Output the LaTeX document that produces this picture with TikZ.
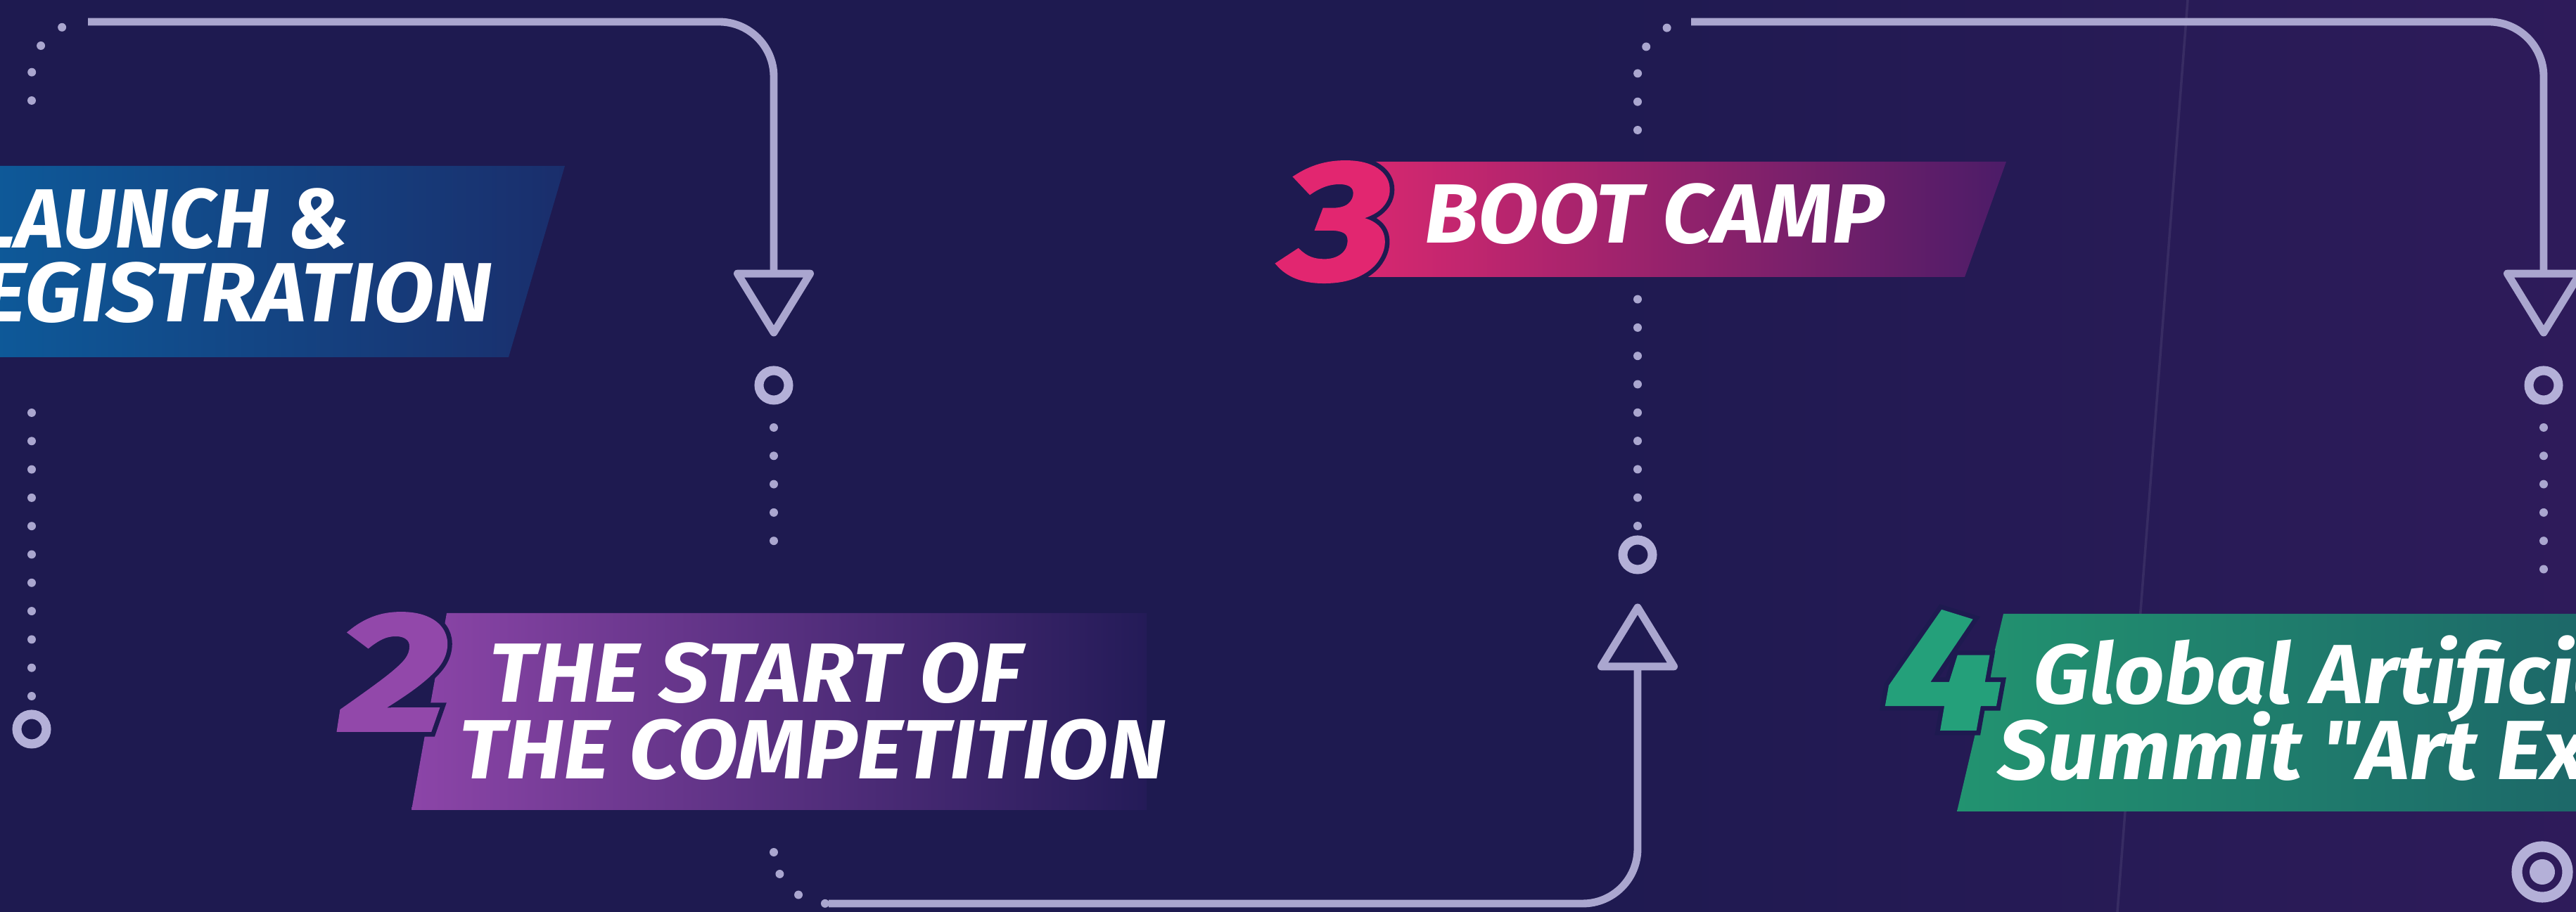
\documentclass[tikz,border=0pt]{standalone}
\usepackage{fontspec}
\setmainfont{Fira Sans}
\newfontfamily\titlefont{Fira Sans}[BoldItalicFeatures={FakeStretch=1.05}]
\newfontfamily\digitfont{Fira Sans}[BoldItalicFeatures={FakeStretch=1.25, FakeBold=2.5}]
\newfontfamily\digitedge{Fira Sans}[BoldItalicFeatures={FakeStretch=1.25, FakeBold=8}]
\usetikzlibrary{arrows.meta}
\begin{document}
\begin{tikzpicture}[
  flow/.style={draw=linelav, line width=3.1pt, rounded corners=0.78cm},
  flowtip/.style={-{Triangle[open, length=1.0cm, width=1.2cm, round]}, shorten >=0.42cm},
  dotline/.style={draw=linelav, line width=3.4pt, line cap=round, dash pattern=on 0pt off 0.403cm, rounded corners=0.77cm},
  ring/.style={circle, draw=ringlav, line width=3.7pt, minimum size=0.42cm, inner sep=0pt},
  title/.style={text=white, inner sep=0pt, text height=0.9cm, text depth=0pt, font=\titlefont\fontsize{34}{34}\selectfont\bfseries\itshape},
  digit/.style={inner sep=0pt, anchor=base west, font=\digitfont\fontsize{68}{68}\selectfont\bfseries\itshape},
  digitback/.style={inner sep=0pt, anchor=base west, text=bgnavy, font=\digitedge\fontsize{68}{68}\selectfont\bfseries\itshape}
]
  \definecolor{bgnavy}{RGB}{30,26,80}
  \definecolor{bgpurple}{RGB}{46,27,90}
  \definecolor{linelav}{RGB}{170,166,207}
  \definecolor{ringlav}{RGB}{180,176,216}
  \definecolor{blueleft}{RGB}{12,94,158}
  \definecolor{blueright}{RGB}{26,46,108}
  \definecolor{purpleleft}{RGB}{140,69,168}
  \definecolor{purplemid}{RGB}{100,52,150}
  \definecolor{purpleright}{RGB}{36,27,88}
  \definecolor{pinkleft}{RGB}{218,40,112}
  \definecolor{pinkmid}{RGB}{160,32,112}
  \definecolor{pinkright}{RGB}{76,28,104}
  \definecolor{greenleft}{RGB}{34,147,112}
  \definecolor{greenright}{RGB}{28,100,104}
  \definecolor{numtwo}{RGB}{146,72,170}
  \definecolor{numthree}{RGB}{226,38,112}
  \definecolor{numfour}{RGB}{36,160,122}
  \useasboundingbox (0,0) rectangle (36.62,12.97);
  \clip (0,0) rectangle (36.62,12.97);
  \fill[bgnavy] (0,0) rectangle (36.62,12.97);
  \shade[left color=bgnavy, right color=bgpurple] (22,0) rectangle (36.62,12.97);
  \draw[white, opacity=0.08, line width=1pt] (31.10,12.97) -- (30.10,0);

  \shade[left color=blueleft, right color=blueright] (-1,10.61) -- (8.03,10.61) -- (7.23,7.89) -- (-1,7.89) -- cycle;
  \shade[left color=purpleleft, middle color=purplemid, right color=purpleright] (6.35,4.25) -- (16.30,4.25) -- (16.30,1.45) -- (5.85,1.45) -- cycle;
  \shade[left color=pinkleft, middle color=pinkmid, right color=pinkright] (19.45,10.67) -- (28.52,10.67) -- (27.93,9.03) -- (19.20,9.03) -- cycle;
  \shade[left color=greenleft, right color=greenright] (28.48,4.24) -- (37.50,4.24) -- (37.50,1.43) -- (27.82,1.43) -- cycle;

  \node[digitback] (twoedge) at (4.84,2.59) {2};
  \node[digitback] (threeedge) at (18.25,9.01) {3};
  \node[digitback] (fouredge) at (26.80,2.61) {4};
  \node[digit, text=numtwo] (two) at (4.84,2.59) {2};
  \node[digit, text=numthree] (three) at (18.25,9.01) {3};
  \node[digit, text=numfour] (four) at (26.80,2.61) {4};

  \node[title, anchor=base east] (launch) at (4.98,9.44) {\scalebox{0.93}[1]{LAUNCH \&}};
  \node[title, anchor=base east] (registration) at (7.00,8.39) {REGISTRATION};
  \node[title, anchor=base west] (startof) at (6.95,2.98) {THE START OF};
  \node[title, anchor=base west] (competition) at (6.52,1.89) {THE COMPETITION};
  \node[title, anchor=base west] (bootcamp) at (20.25,9.51) {BOOT CAMP};
  \node[title, anchor=base west] (global) at (28.90,2.96) {Global Artificia};
  \node[title, anchor=base west] (summit) at (28.40,1.88) {Summit \textquotedbl Art Ex};

  \node[ring] (ring1) at (0.45,2.60) {};
  \node[ring] (ring2) at (11.00,7.49) {};
  \node[ring] (ring3) at (23.28,5.08) {};
  \node[ring] (ring4) at (36.16,7.49) {};
  \node[circle, draw=ringlav, line width=4.3pt, minimum size=0.72cm, inner sep=0pt] (endring) at (36.14,0.57) {};
  \node[circle, fill=ringlav, minimum size=0.36cm, inner sep=0pt] (enddot) at (endring) {};

  \coordinate (top1) at (1.25,12.66);
  \coordinate (bottom2) at (11.78,0.12);
  \coordinate (top3) at (24.04,12.66);
  \draw[flow, flowtip] (top1) -| (ring2.north);
  \draw[flow, flowtip] (bottom2) -| (ring3.south);
  \draw[flow, flowtip] (top3) -| (ring4.north);

  \coordinate (dota) at (0.45,3.07);
  \coordinate (dotb) at (0.45,7.10);
  \coordinate (dotc) at (0.45,11.54);
  \coordinate (dotd) at (11.00,6.89);
  \coordinate (dote) at (11.00,4.89);
  \coordinate (dotf) at (11.00,0.85);
  \coordinate (dotg) at (23.28,5.49);
  \coordinate (doth) at (23.28,8.72);
  \coordinate (doti) at (23.28,11.12);
  \coordinate (dotj) at (36.16,6.89);
  \coordinate (dotk) at (36.16,4.49);
  \draw[dotline] (dota) -- (dotb);
  \draw[dotline] (dotc) |- (top1);
  \draw[dotline] (dotd) -- (dote);
  \draw[dotline] (dotf) |- (bottom2);
  \draw[dotline] (dotg) -- (doth);
  \draw[dotline] (doti) |- (top3);
  \draw[dotline] (dotj) -- (dotk);
\end{tikzpicture}
\end{document}
